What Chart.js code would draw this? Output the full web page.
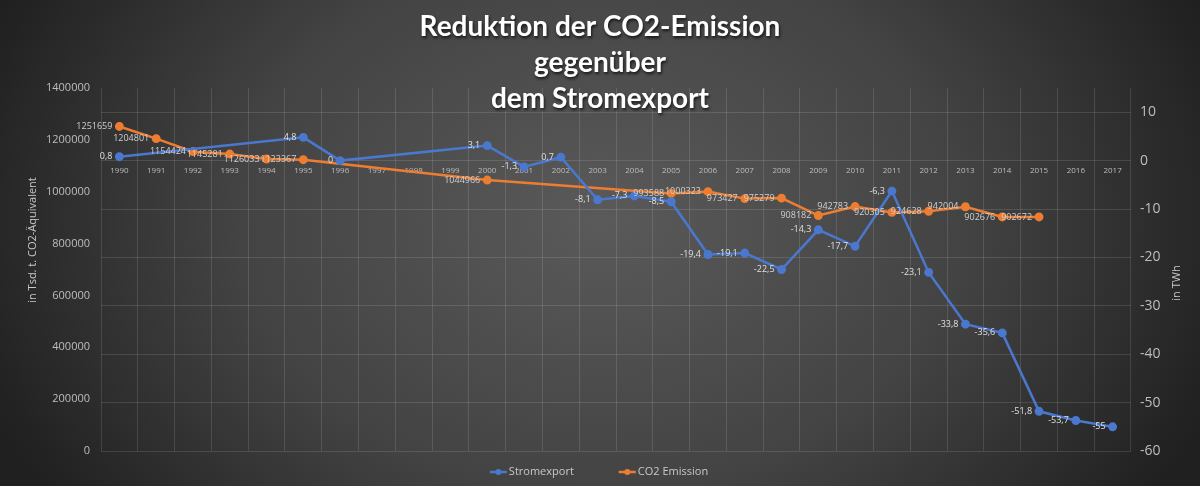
<!DOCTYPE html>
<html>
<head>
<meta charset="utf-8">
<script src="https://cdn.jsdelivr.net/npm/chart.js@4.4.1/dist/chart.umd.min.js"></script>
<style>
  html, body { margin: 0; padding: 0; background: #333; }
  #wrap { width: 1200px; height: 486px; }
</style>
</head>
<body>
<div id="wrap"><canvas id="chart" width="1200" height="486"></canvas></div>
<script>
var years = ["1990", "1991", "1992", "1993", "1994", "1995", "1996", "1997", "1998", "1999",
  "2000", "2001", "2002", "2003", "2004", "2005", "2006", "2007", "2008", "2009",
  "2010", "2011", "2012", "2013", "2014", "2015", "2016", "2017"];

// Stromexport in TWh (rechte Achse)
var stromexport = [0.8, null, null, null, null, 4.8, 0, null, null, null,
  3.1, -1.3, 0.7, -8.1, -7.3, -8.5, -19.4, -19.1, -22.5, -14.3,
  -17.7, -6.3, -23.1, -33.8, -35.6, -51.8, -53.7, -55];

// CO2 Emission in Tsd. t (linke Achse)
var co2Emission = [1251659, 1204801, 1154424, 1145281, 1126033, 1123367, null, null, null, null,
  1044966, null, null, null, null, 993588, 1000323, 973427, 975279, 908182,
  942783, 920305, 924628, 942004, 902676, 902672, null, null];

var titleLines = ["Reduktion der CO2-Emission", "gegenüber", "dem Stromexport"];
var leftTicks = [0, 200000, 400000, 600000, 800000, 1000000, 1200000, 1400000];
var rightTicks = [-60, -50, -40, -30, -20, -10, 0, 10];

var BLUE = "#4a78cf";
var ORANGE = "#ed7d31";
var TEXT = "#c8c8c8";
var FONT = "'Open Sans', 'Liberation Sans', sans-serif";

function formatDe(v) {
  return String(v).replace(".", ",");
}

var backgroundPlugin = {
  id: "bg",
  beforeDraw: function (chart) {
    var ctx = chart.ctx;
    var w = chart.width, h = chart.height;
    ctx.save();
    ctx.translate(w / 2, h * 0.45);
    ctx.scale(1, 0.75);
    var g = ctx.createRadialGradient(0, 0, 0, 0, 0, w * 0.55);
    g.addColorStop(0, "#5a5a5a");
    g.addColorStop(0.55, "#434343");
    g.addColorStop(1, "#202020");
    ctx.fillStyle = g;
    ctx.fillRect(-w, -h * 2, w * 2, h * 4);
    ctx.restore();
  }
};

var labelsPlugin = {
  id: "pointLabels",
  afterDatasetsDraw: function (chart) {
    var ctx = chart.ctx;
    ctx.save();
    ctx.font = "9px " + FONT;
    ctx.textAlign = "right";
    ctx.textBaseline = "middle";
    chart.data.datasets.forEach(function (ds, i) {
      var meta = chart.getDatasetMeta(i);
      meta.data.forEach(function (pt, j) {
        var v = ds.data[j];
        if (v === null || v === undefined) return;
        ctx.fillStyle = i === 0 ? "#e0e0e0" : "#d0d0d0";
        ctx.fillText(i === 0 ? formatDe(v) : String(v), pt.x - 7, pt.y);
      });
    });
    ctx.restore();
  }
};

var decorPlugin = {
  id: "decor",
  afterDraw: function (chart) {
    var ctx = chart.ctx;
    ctx.save();

    // Titel
    ctx.font = "bold 28px Lato, 'Open Sans', sans-serif";
    ctx.textAlign = "center";
    ctx.textBaseline = "middle";
    ctx.shadowColor = "rgba(0,0,0,0.7)";
    ctx.shadowOffsetX = 1;
    ctx.shadowOffsetY = 2;
    ctx.shadowBlur = 3;
    ctx.fillStyle = "#ffffff";
    for (var i = 0; i < titleLines.length; i++) {
      ctx.fillText(titleLines[i], 600, 27 + i * 36);
    }
    ctx.shadowColor = "transparent";

    // Achsentitel
    ctx.font = "11px " + FONT;
    ctx.fillStyle = TEXT;
    ctx.save();
    ctx.translate(33, 240);
    ctx.rotate(-Math.PI / 2);
    ctx.fillText("in Tsd. t. CO2-Äquivalent", 0, 0);
    ctx.restore();
    ctx.save();
    ctx.translate(1177, 283);
    ctx.rotate(-Math.PI / 2);
    ctx.fillText("in TWh", 0, 0);
    ctx.restore();

    // Legende
    var items = [
      { text: chart.data.datasets[0].label, color: BLUE },
      { text: chart.data.datasets[1].label, color: ORANGE }
    ];
    ctx.font = "11px " + FONT;
    ctx.textAlign = "left";
    var iconW = 17, gap = 2, spacing = 45;
    var total = 0;
    items.forEach(function (it, k) {
      it.w = ctx.measureText(it.text).width;
      total += iconW + gap + it.w + (k > 0 ? spacing : 0);
    });
    var x = 599 - total / 2;
    var y = 472;
    items.forEach(function (it) {
      ctx.strokeStyle = it.color;
      ctx.lineWidth = 2.5;
      ctx.beginPath();
      ctx.moveTo(x, y);
      ctx.lineTo(x + iconW, y);
      ctx.stroke();
      ctx.fillStyle = it.color;
      ctx.beginPath();
      ctx.arc(x + iconW / 2, y, 3, 0, Math.PI * 2);
      ctx.fill();
      ctx.fillStyle = TEXT;
      ctx.fillText(it.text, x + iconW + gap, y);
      x += iconW + gap + it.w + spacing;
    });

    ctx.restore();
  }
};

var gridColor = "rgba(255,255,255,0.12)";

var chart = new Chart(document.getElementById("chart"), {
  type: "line",
  data: {
    labels: years,
    datasets: [
      {
        label: "Stromexport",
        data: stromexport,
        yAxisID: "y1",
        borderColor: BLUE,
        backgroundColor: BLUE,
        borderWidth: 2.5,
        pointRadius: 3.2,
        pointHoverRadius: 3.2,
        spanGaps: true,
        tension: 0
      },
      {
        label: "CO2 Emission",
        data: co2Emission,
        yAxisID: "y",
        borderColor: ORANGE,
        backgroundColor: ORANGE,
        borderWidth: 2.5,
        pointRadius: 3.2,
        pointHoverRadius: 3.2,
        spanGaps: true,
        tension: 0
      }
    ]
  },
  options: {
    responsive: false,
    animation: false,
    layout: { padding: { top: 88, bottom: 35, left: 0, right: 0 } },
    plugins: {
      legend: { display: false },
      title: { display: false },
      tooltip: { enabled: false }
    },
    scales: {
      x: {
        type: "category",
        position: { y1: 0 },
        offset: true,
        grid: { color: gridColor, offset: true, drawTicks: false },
        border: { display: false },
        ticks: {
          color: "#bdbdbd",
          font: { size: 8, family: FONT },
          padding: 5,
          maxRotation: 0,
          autoSkip: false
        }
      },
      y: {
        position: "left",
        min: 0,
        max: 1400000,
        afterBuildTicks: function (scale) {
          scale.ticks = leftTicks.map(function (v) { return { value: v }; });
        },
        afterFit: function (scale) { scale.width = 101; },
        grid: { display: false, drawTicks: false },
        border: { display: false },
        ticks: {
          color: "#bdbdbd",
          font: { size: 11, family: FONT },
          padding: 11,
          callback: function (v) { return String(v); }
        }
      },
      y1: {
        position: "right",
        min: -60,
        max: 15,
        afterBuildTicks: function (scale) {
          scale.ticks = rightTicks.map(function (v) { return { value: v }; });
        },
        afterFit: function (scale) { scale.width = 69; },
        grid: { color: gridColor, drawTicks: false },
        border: { display: false },
        ticks: {
          color: "#bdbdbd",
          font: { size: 14, family: FONT },
          padding: 9,
          callback: function (v) { return String(v); }
        }
      }
    }
  },
  plugins: [backgroundPlugin, labelsPlugin, decorPlugin]
});
</script>
</body>
</html>
